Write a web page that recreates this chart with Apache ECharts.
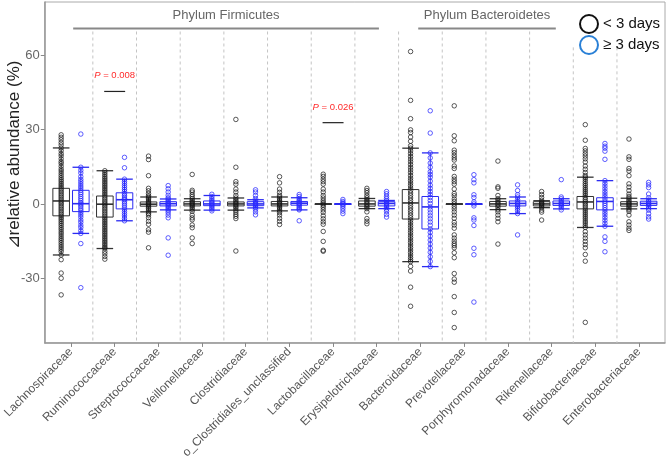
<!DOCTYPE html>
<html>
<head>
<meta charset="utf-8">
<script src="https://cdn.jsdelivr.net/npm/echarts@6/dist/echarts.min.js"></script>
<style>
html,body{margin:0;padding:0;background:#fff;}
#chart{width:667px;height:461px;}
</style>
</head>
<body>
<div id="chart"></div>
<script>
const categories = ['Lachnospiraceae','Ruminococcaceae','Streptococcaceae','Veillonellaceae','Clostridiaceae','o_Clostridiales_unclassified','Lactobacillaceae','Erysipelotrichaceae','Bacteroidaceae','Prevotellaceae','Porphyromonadaceae','Rikenellaceae','Bifidobacteriaceae','Enterobacteriaceae'];
const seriesNames = ['< 3 days', '\u2265 3 days'];
const yTicks = [-30, 0, 30, 60];

// [lower whisker, Q1, median, Q3, upper whisker]
const shortBoxes = [
  [-20.6, -4.8, 1.2, 6.3, 22.6],
  [-18.0, -5.3, -0.1, 3.2, 13.4],
  [-3.2, -0.9, -0.1, 0.8, 2.8],
  [-2.5, -0.8, 0, 0.9, 2.1],
  [-2.5, -0.8, 0, 0.8, 2.4],
  [-2.8, -0.8, 0, 1.0, 2.8],
  [0, 0, 0, 0, 0],
  [-1.9, -0.9, 0, 1.2, 2.2],
  [-23.3, -6.1, 0.4, 5.8, 22.5],
  [0, 0, 0, 0, 0],
  [-2.3, -0.9, 0, 1.0, 2.1],
  [-1.5, -0.8, 0, 0.9, 1.3],
  [-9.5, -2.0, 0.8, 3.0, 10.8],
  [-2.0, -0.9, 0, 0.9, 2.3]
];
const longBoxes = [
  [-11.9, -3.1, 0.1, 5.5, 14.8],
  [-6.8, -2.0, 1.7, 4.5, 10.0],
  [-2.4, -0.8, 0.1, 0.9, 2.0],
  [-2.5, -0.7, 0, 1.2, 3.4],
  [-1.6, -0.7, 0, 0.9, 1.7],
  [-2.4, -0.5, 0.3, 1.0, 2.5],
  [0, 0, 0, 0, 0],
  [-1.9, -0.8, 0.2, 0.9, 1.4],
  [-25.3, -10.1, -1.2, 3.0, 20.6],
  [0, 0, 0, 0, 0],
  [-3.9, -0.8, 0.2, 1.2, 2.8],
  [-2.0, -0.6, 0.2, 1.2, 2.1],
  [-9.0, -2.4, 1.0, 2.5, 9.4],
  [-1.9, -0.6, 0.2, 1.1, 2.1]
];

const shortPoints = [
  [27.9, 26.9, 25.9, 24.8, 23.8, 22.6, 21.5, 20.3, 19.4, 18.2, 17.1, 16.3, 15.2, 14.1, 13.3, 12.4, 11.5, 10.6, 9.8, 9.1, 8.3, 7.6, 6.9, 6.2, 5.5, 4.8, 4.1, 3.4, 2.7, 2.0, 1.3, 0.6, 0, -0.7, -1.4, -2.1, -2.8, -3.5, -4.2, -4.9, -5.6, -6.3, -7.1, -7.9, -8.7, -9.6, -10.4, -11.3, -12.1, -13.0, -13.9, -14.7, -15.6, -16.5, -17.4, -18.3, -19.2, -20.6, -22.5, -27.9, -30.0, -36.7],
  [13.4, 12.6, 11.8, 11.0, 10.3, 9.6, 8.9, 8.2, 7.5, 6.8, 6.1, 5.4, 4.7, 4.0, 3.3, 2.6, 1.9, 1.2, 0.5, -0.1, -0.7, -1.4, -2.1, -2.8, -3.5, -4.2, -4.9, -5.6, -6.3, -7.0, -7.7, -8.4, -9.1, -9.8, -10.5, -11.2, -11.9, -12.6, -13.3, -14.0, -14.7, -15.4, -16.1, -16.8, -17.5, -18.0, -19.1, -20.1, -21.2, -22.3],
  [19.3, 17.9, 11.4, 6.3, 5.3, 4.2, 3.3, 2.8, 2.2, 1.6, 1.0, 0.5, 0.1, -0.3, -0.8, -1.3, -1.9, -2.5, -3.2, -3.9, -4.5, -5.6, -7.0, -8.2, -10.4, -11.4, -17.7],
  [11.9, 5.5, 4.8, 3.8, 3.0, 2.2, 1.5, 0.9, 0.4, 0, -0.4, -0.9, -1.5, -2.2, -3.0, -4.5, -5.6, -6.4, -8.5, -9.6, -13.7, -16.0],
  [34.1, 14.8, 9.0, 8.0, 6.0, 4.8, 3.4, 2.4, 1.7, 1.1, 0.5, 0, -0.5, -1.1, -1.7, -2.5, -3.3, -4.2, -5.0, -5.9, -19.0],
  [11.0, 8.5, 6.0, 4.7, 3.5, 2.8, 2.1, 1.5, 0.9, 0.4, 0, -0.4, -0.9, -1.5, -2.1, -2.8, -3.5, -4.5, -5.8, -7.0, -8.3],
  [12.0, 11.1, 10.0, 9.0, 8.0, 6.0, 4.8, 3.4, 2.4, 1.4, 0.6, 0, -0.6, -1.4, -2.4, -3.4, -4.8, -6.0, -7.2, -8.2, -11.1, -15.1, -18.7, -19.1],
  [6.3, 5.4, 4.5, 3.4, 2.5, 1.8, 1.2, 0.6, 0, -0.6, -1.2, -1.9, -3.2, -5.9, -7.0, -8.0],
  [61.5, 41.8, 34.4, 29.9, 28.8, 27.0, 25.3, 23.5, 22.5, 21.4, 20.3, 19.2, 18.1, 17.0, 15.9, 14.8, 13.7, 12.6, 11.5, 10.4, 9.4, 8.4, 7.4, 6.4, 5.4, 4.4, 3.4, 2.4, 1.4, 0.4, -0.6, -1.6, -2.6, -3.6, -4.6, -5.6, -6.6, -7.6, -8.6, -9.6, -10.6, -11.6, -12.6, -13.6, -14.6, -15.6, -16.6, -17.6, -18.6, -19.6, -20.6, -21.6, -22.5, -23.3, -25.2, -27.1, -33.6, -41.3],
  [39.6, 27.5, 25.5, 21.7, 20.7, 19.6, 18.6, 17.7, 15.3, 14.3, 11.1, 10.0, 9.0, 8.0, 6.0, 4.2, 3.3, 2.0, 1.0, 0, -1.0, -2.0, -3.2, -4.5, -5.8, -7.4, -8.5, -9.8, -12.5, -13.8, -15.0, -16.0, -16.8, -17.7, -19.7, -21.7, -28.1, -30.3, -31.6, -37.4, -43.8, -49.9],
  [17.3, 6.9, 6.3, 3.4, 2.1, 1.3, 0.6, 0, -0.6, -1.3, -2.3, -3.2, -4.5, -5.8, -7.2, -16.2],
  [5.0, 3.8, 2.6, 1.5, 0.8, 0.3, 0, -0.4, -0.9, -1.5, -2.5, -3.3, -6.5],
  [32.0, 25.7, 22.4, 21.4, 20.3, 19.3, 18.2, 16.9, 15.3, 14.0, 12.7, 11.5, 10.8, 10.0, 9.1, 8.2, 7.4, 6.5, 5.7, 4.9, 4.1, 3.3, 2.5, 1.7, 0.9, 0.2, -0.5, -1.2, -2.0, -2.8, -3.6, -4.4, -5.2, -6.0, -6.9, -7.7, -8.6, -9.5, -11.2, -12.5, -13.8, -15.1, -16.4, -17.7, -20.4, -23.1, -47.8],
  [26.2, 19.0, 18.0, 14.3, 13.3, 11.4, 8.1, 6.8, 5.4, 4.0, 3.0, 2.3, 1.6, 1.0, 0.4, 0, -0.4, -1.0, -1.6, -2.3, -3.0, -4.5, -7.2, -8.5, -9.8, -10.7]
];
const longPoints = [
  [28.2, 14.8, 13.6, 12.5, 11.0, 9.9, 9.0, 8.1, 7.2, 6.4, 5.5, 4.6, 3.9, 3.0, 2.2, 1.4, 0.6, 0.1, -0.5, -1.2, -2.0, -2.7, -3.5, -4.4, -5.3, -6.5, -7.4, -8.6, -9.5, -10.8, -11.9, -16.0, -33.8],
  [18.8, 14.6, 10.0, 9.1, 8.3, 7.4, 6.6, 5.8, 5.0, 4.2, 3.5, 2.8, 2.1, 1.7, 1.0, 0.3, -0.5, -1.3, -2.1, -3.0, -3.9, -4.8, -5.8, -6.8],
  [7.4, 6.1, 4.8, 3.5, 2.5, 2.0, 1.4, 0.8, 0.3, 0, -0.4, -0.9, -1.5, -2.1, -2.7, -3.5, -4.5, -5.6, -13.7, -20.7],
  [3.9, 3.0, 2.2, 1.5, 0.9, 0.4, 0, -0.4, -0.9, -1.5, -2.1, -2.8],
  [5.7, 4.8, 3.4, 2.2, 1.4, 0.8, 0.3, 0, -0.4, -0.9, -1.5, -2.2, -3.2, -4.4],
  [3.8, 3.0, 2.2, 1.5, 1.0, 0.5, 0.1, -0.3, -0.8, -1.4, -2.0, -2.4, -6.8],
  [1.8, 1.0, 0.4, 0, -0.4, -1.0, -1.9, -2.9, -3.9],
  [5.0, 4.1, 3.1, 2.2, 1.4, 0.8, 0.3, 0, -0.4, -0.9, -1.5, -2.2, -3.0, -4.2, -5.3],
  [37.6, 28.6, 20.6, 18.6, 16.5, 14.8, 13.0, 11.9, 10.8, 9.2, 7.6, 6.3, 5.0, 3.8, 2.6, 1.4, 0.2, -1.2, -2.4, -3.6, -4.8, -6.0, -7.3, -8.6, -10.1, -11.5, -13.0, -14.6, -16.2, -17.8, -19.5, -21.3, -23.2, -25.3],
  [11.8, 9.8, 8.5, 3.7, 2.6, 0.8, 0, -0.8, -5.6, -6.5, -8.7, -17.9, -20.5, -39.6],
  [7.7, 5.4, 3.7, 2.8, 1.8, 1.0, 0.4, 0, -0.5, -1.1, -1.8, -2.7, -3.9, -12.5],
  [9.8, 2.8, 2.1, 1.4, 0.8, 0.3, 0, -0.4, -0.9, -1.5, -2.4],
  [24.4, 23.3, 22.5, 21.3, 18.0, 9.4, 8.3, 7.2, 6.1, 5.0, 4.0, 3.0, 2.0, 1.0, 0.2, -0.6, -1.5, -2.4, -3.4, -4.4, -5.5, -6.6, -7.8, -9.0, -13.3, -15.1, -19.3],
  [8.7, 7.7, 6.6, 4.0, 2.5, 1.6, 0.9, 0.3, 0, -0.4, -1.0, -1.7, -2.5, -3.9, -5.2, -6.1]
];

// annotations
const phylumLabels = ['Phylum Firmicutes', 'Phylum Bacteroidetes'];
const phylumRanges = [[1.05, 8.05], [8.95, 12.1]];
const pLabels = ['0.008', '0.026'];
const pCategories = [2, 7];
const pLineValues = [45.4, 32.8];

const FONT = '"Liberation Sans", Arial, sans-serif';
const DODGE = 0.225, BOX_W = 0.38;
const BLACK = '#333333', BLUE = '#2b2bf2';

function boxSeries(boxes, dodge, color) {
  return {
    type: 'custom',
    z: 2,
    silent: true,
    data: boxes.map((b, i) => [i + 1 + dodge].concat(b)),
    encode: { x: 0, y: [1, 2, 3, 4, 5] },
    renderItem: function (params, api) {
      const x = api.value(0);
      const lo = api.coord([x, api.value(1)]);
      const q1 = api.coord([x, api.value(2)]);
      const md = api.coord([x, api.value(3)]);
      const q3 = api.coord([x, api.value(4)]);
      const hi = api.coord([x, api.value(5)]);
      const hw = api.size([BOX_W, 0])[0] / 2;
      const cx = lo[0];
      const st = { stroke: color, lineWidth: 1, fill: null };
      return {
        type: 'group',
        children: [
          { type: 'line', shape: { x1: cx, y1: lo[1], x2: cx, y2: q1[1] }, style: st },
          { type: 'line', shape: { x1: cx, y1: q3[1], x2: cx, y2: hi[1] }, style: st },
          { type: 'rect', shape: { x: cx - hw, y: q3[1], width: 2 * hw, height: Math.max(q1[1] - q3[1], 0.5) }, style: { stroke: color, lineWidth: 1, fill: 'none' } },
          { type: 'line', shape: { x1: cx - hw, y1: md[1], x2: cx + hw, y2: md[1] }, style: { stroke: color, lineWidth: 1.6 } },
          { type: 'line', shape: { x1: cx - hw, y1: lo[1], x2: cx + hw, y2: lo[1] }, style: { stroke: color, lineWidth: 1.3 } },
          { type: 'line', shape: { x1: cx - hw, y1: hi[1], x2: cx + hw, y2: hi[1] }, style: { stroke: color, lineWidth: 1.3 } }
        ]
      };
    }
  };
}

function pointSeries(name, pts, dodge, stroke) {
  const data = [];
  pts.forEach((arr, i) => arr.forEach(v => data.push([i + 1 + dodge, v])));
  return {
    name: name,
    type: 'scatter',
    z: 3,
    silent: true,
    symbol: 'circle',
    symbolSize: 4.5,
    itemStyle: { color: 'rgba(0,0,0,0)', borderColor: stroke, borderWidth: 1, opacity: 1 },
    data: data
  };
}

const sepData = [];
for (let k = 1; k < categories.length; k++) sepData.push([k + 0.5, k >= 12 ? 63.2 : 69.6]);

const chart = echarts.init(document.getElementById('chart'), null, { renderer: 'canvas' });
chart.setOption({
  animation: false,
  backgroundColor: '#ffffff',
  textStyle: { fontFamily: FONT },
  grid: { left: 44, right: 2, top: 2, bottom: 115, show: true, borderColor: '#aaaaaa', borderWidth: 1, backgroundColor: 'transparent' },
  legend: {
    orient: 'vertical',
    left: 574,
    top: 9,
    itemWidth: 18,
    itemHeight: 18,
    itemGap: 1,
    icon: 'circle',
    textStyle: { fontSize: 15, color: '#111', fontFamily: FONT },
    data: [
      { name: seriesNames[0], itemStyle: { color: 'rgba(0,0,0,0)', borderColor: '#111', borderWidth: 2 } },
      { name: seriesNames[1], itemStyle: { color: 'rgba(0,0,0,0)', borderColor: '#2a80d6', borderWidth: 2 } }
    ]
  },
  xAxis: {
    type: 'value',
    min: 0.4,
    max: 14.6,
    splitLine: { show: false },
    axisLine: { show: true, onZero: false, lineStyle: { color: '#999', width: 1.5 } },
    axisTick: { show: true, length: 4, customValues: categories.map((c, i) => i + 1), lineStyle: { color: '#888' } },
    axisLabel: {
      customValues: categories.map((c, i) => i + 1),
      rotate: 45,
      margin: 7,
      fontSize: 12,
      color: '#555',
      fontFamily: FONT,
      formatter: v => categories[Math.round(v) - 1] || ''
    }
  },
  yAxis: {
    type: 'value',
    min: -56.1,
    max: 81.5,
    splitLine: { show: false },
    axisLine: { show: true, onZero: false, lineStyle: { color: '#999', width: 1.5 } },
    axisTick: { show: true, length: 4, customValues: yTicks, lineStyle: { color: '#888' } },
    axisLabel: { customValues: yTicks, fontSize: 13, color: '#666', margin: 5, fontFamily: FONT }
  },
  graphic: [
    { type: 'text', x: 14, y: 155, rotation: Math.PI / 2, style: { text: '\u22BFrelative abundance (%)', fontSize: 17, fill: '#222', align: 'center', verticalAlign: 'middle', fontFamily: FONT } }
  ],
  series: [
    {
      type: 'custom',
      silent: true,
      z: 1,
      data: sepData,
      encode: { x: 0, y: 1 },
      renderItem: function (params, api) {
        const top = api.coord([api.value(0), api.value(1)]);
        const bot = api.coord([api.value(0), -56.1]);
        return { type: 'line', shape: { x1: top[0], y1: top[1], x2: bot[0], y2: bot[1] }, style: { stroke: '#c4c4c4', lineWidth: 1, lineDash: [3, 3] } };
      }
    },
    {
      type: 'custom',
      silent: true,
      z: 1,
      data: phylumRanges.map((r, i) => [r[0], r[1], i]),
      encode: { x: [0, 1] },
      renderItem: function (params, api) {
        const a = api.coord([api.value(0), 70.8]);
        const b = api.coord([api.value(1), 70.8]);
        const t = api.coord([(api.value(0) + api.value(1)) / 2, 76]);
        return {
          type: 'group',
          children: [
            { type: 'line', shape: { x1: a[0], y1: a[1], x2: b[0], y2: b[1] }, style: { stroke: '#888', lineWidth: 2 } },
            { type: 'text', x: t[0], y: t[1], style: { text: phylumLabels[api.value(2)], fontSize: 13, fill: '#666', align: 'center', verticalAlign: 'middle', fontFamily: FONT } }
          ]
        };
      }
    },
    {
      type: 'custom',
      silent: true,
      z: 4,
      data: pCategories.map((c, i) => [c, pLineValues[i], i]),
      encode: { x: 0, y: 1 },
      renderItem: function (params, api) {
        const x = api.value(0), y = api.value(1);
        const a = api.coord([x - 0.24, y]);
        const b = api.coord([x + 0.24, y]);
        const t = api.coord([x, y + 6.3]);
        return {
          type: 'group',
          children: [
            { type: 'line', shape: { x1: a[0], y1: a[1], x2: b[0], y2: b[1] }, style: { stroke: '#222', lineWidth: 1.2 } },
            { type: 'text', x: t[0], y: t[1], style: { text: '{i|P} = ' + pLabels[api.value(2)], rich: { i: { fontStyle: 'italic', fontSize: 9.5, fill: '#ff2a2a', fontFamily: FONT } }, fontSize: 9.5, fill: '#ff2a2a', align: 'center', verticalAlign: 'middle', fontFamily: FONT } }
          ]
        };
      }
    },
    boxSeries(shortBoxes, -DODGE, BLACK),
    boxSeries(longBoxes, DODGE, BLUE),
    pointSeries(seriesNames[0], shortPoints, -DODGE, 'rgba(20,20,20,0.7)'),
    pointSeries(seriesNames[1], longPoints, DODGE, 'rgba(40,40,255,0.75)')
  ]
});
</script>
</body>
</html>
